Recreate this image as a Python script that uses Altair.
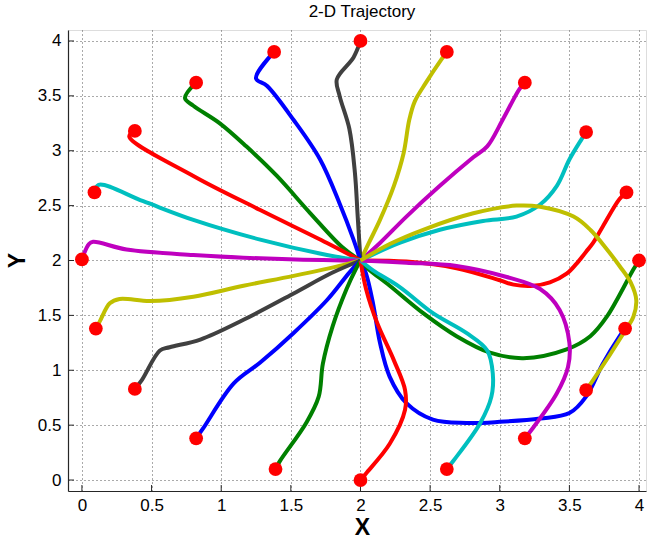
import altair as alt
import pandas as pd

# MATLAB-style colour cycle
COLORS = ["#0000ff", "#008000", "#ff0000", "#00bfbf", "#bf00bf", "#bfbf00", "#404040"]

t01_x = [3.90, 3.86, 3.74, 3.62, 3.50, 3.29, 3.00, 2.76, 2.52, 2.33, 2.21, 2.14, 2.09, 2.04, 2.00]
t01_y = [1.38, 1.31, 1.06, 0.76, 0.61, 0.56, 0.53, 0.52, 0.55, 0.70, 0.94, 1.25, 1.61, 1.88, 2.00]
t02_x = [4.00, 3.96, 3.77, 3.65, 3.48, 3.17, 2.93, 2.69, 2.45, 2.21, 2.05, 2.00]
t02_y = [2.00, 1.92, 1.49, 1.31, 1.19, 1.11, 1.16, 1.31, 1.52, 1.77, 1.93, 2.00]
t03_x = [3.91, 3.86, 3.74, 3.67, 3.62, 3.55, 3.48, 3.36, 3.24, 3.10, 3.00, 2.69, 2.33, 2.00]
t03_y = [2.62, 2.56, 2.31, 2.16, 2.08, 1.97, 1.88, 1.80, 1.77, 1.78, 1.82, 1.93, 1.99, 2.00]
t04_x = [3.62, 3.59, 3.50, 3.41, 3.29, 3.12, 2.88, 2.57, 2.28, 2.00]
t04_y = [3.17, 3.11, 2.92, 2.68, 2.51, 2.40, 2.36, 2.28, 2.16, 2.00]
t05_x = [3.18, 3.14, 3.02, 2.91, 2.81, 2.57, 2.33, 2.14, 2.00]
t05_y = [3.62, 3.56, 3.28, 3.04, 2.94, 2.68, 2.40, 2.16, 2.00]
t06_x = [2.62, 2.58, 2.47, 2.39, 2.35, 2.31, 2.24, 2.14, 2.06, 2.00]
t06_y = [3.90, 3.83, 3.62, 3.45, 3.28, 2.98, 2.68, 2.37, 2.16, 2.00]
t07_x = [2.00, 1.95, 1.83, 1.85, 1.92, 1.96, 1.98, 2.00]
t07_y = [4.00, 3.85, 3.65, 3.50, 3.20, 2.80, 2.40, 2.00]
t08_x = [1.38, 1.25, 1.33, 1.52, 1.71, 1.85, 1.95, 2.00]
t08_y = [3.90, 3.66, 3.59, 3.28, 2.92, 2.52, 2.19, 2.00]
t09_x = [0.82, 0.74, 0.80, 0.99, 1.18, 1.40, 1.64, 1.87, 2.00]
t09_y = [3.62, 3.48, 3.41, 3.25, 3.04, 2.77, 2.43, 2.12, 2.00]
t10_x = [0.38, 0.34, 0.80, 1.28, 1.76, 2.00]
t10_y = [3.18, 3.13, 2.77, 2.46, 2.16, 2.00]
t11_x = [0.09, 0.12, 0.44, 0.80, 1.28, 1.76, 2.00]
t11_y = [2.62, 2.69, 2.54, 2.37, 2.19, 2.05, 2.00]
t12_x = [0.00, 0.05, 0.08, 0.32, 0.80, 1.28, 1.87, 2.00]
t12_y = [2.01, 2.15, 2.17, 2.10, 2.05, 2.02, 2.00, 2.00]
t13_x = [0.10, 0.13, 0.20, 0.27, 0.49, 0.80, 1.16, 1.52, 1.88, 2.00]
t13_y = [1.38, 1.45, 1.61, 1.65, 1.63, 1.67, 1.77, 1.86, 1.96, 2.00]
t14_x = [0.38, 0.43, 0.56, 0.63, 0.85, 1.16, 1.52, 1.80, 2.00]
t14_y = [0.83, 0.91, 1.18, 1.21, 1.28, 1.46, 1.70, 1.89, 2.00]
t15_x = [0.82, 0.87, 1.09, 1.28, 1.52, 1.76, 1.92, 2.00]
t15_y = [0.38, 0.47, 0.88, 1.07, 1.34, 1.64, 1.89, 2.00]
t16_x = [1.39, 1.42, 1.61, 1.70, 1.73, 1.80, 1.90, 1.97, 2.00]
t16_y = [0.10, 0.17, 0.52, 0.76, 1.06, 1.40, 1.74, 1.93, 2.00]
t17_x = [2.00, 2.04, 2.21, 2.32, 2.32, 2.24, 2.12, 2.04, 2.00]
t17_y = [0.00, 0.06, 0.33, 0.64, 0.82, 1.09, 1.43, 1.74, 2.00]
t18_x = [2.62, 2.67, 2.86, 2.94, 2.95, 2.91, 2.76, 2.52, 2.28, 2.09, 2.00]
t18_y = [0.10, 0.18, 0.52, 0.76, 0.97, 1.18, 1.34, 1.52, 1.76, 1.91, 2.00]
t19_x = [3.18, 3.23, 3.41, 3.49, 3.50, 3.43, 3.29, 3.05, 2.69, 2.33, 2.00]
t19_y = [0.38, 0.46, 0.79, 1.03, 1.25, 1.55, 1.74, 1.85, 1.95, 1.98, 2.00]
t20_x = [3.62, 3.67, 3.89, 3.96, 3.98, 3.94, 3.86, 3.77, 3.65, 3.53, 3.29, 3.12, 2.81, 2.45, 2.21, 2.00]
t20_y = [0.82, 0.91, 1.34, 1.49, 1.64, 1.80, 1.95, 2.10, 2.28, 2.40, 2.49, 2.50, 2.43, 2.28, 2.15, 2.00]

TRAJS = [
    (t01_x, t01_y), (t02_x, t02_y), (t03_x, t03_y), (t04_x, t04_y), (t05_x, t05_y),
    (t06_x, t06_y), (t07_x, t07_y), (t08_x, t08_y), (t09_x, t09_y), (t10_x, t10_y),
    (t11_x, t11_y), (t12_x, t12_y), (t13_x, t13_y), (t14_x, t14_y), (t15_x, t15_y),
    (t16_x, t16_y), (t17_x, t17_y), (t18_x, t18_y), (t19_x, t19_y), (t20_x, t20_y),
]
TICKS = [0, 0.5, 1, 1.5, 2, 2.5, 3, 3.5, 4]

rows = []
ids = []
for i, (xs, ys) in enumerate(TRAJS):
    tid = f"t{i + 1:02d}"
    ids.append(tid)
    for j, (x, y) in enumerate(zip(xs, ys)):
        rows.append({"traj": tid, "idx": j, "x": x, "y": y})
df = pd.DataFrame(rows)
starts = df[df["idx"] == 0]
ticks_df = pd.DataFrame({"t": TICKS})
color_range = [COLORS[i % len(COLORS)] for i in range(len(ids))]

FONT = "Liberation Sans"
W, H = 578, 461
xscale = alt.Scale(domain=[-0.1, 4.05], nice=False, zero=False)
yscale = alt.Scale(domain=[-0.1, 4.1], nice=False, zero=False)

common_axis = dict(
    values=TICKS, format="~g", grid=True, ticks=False,
    gridColor="#555555", gridDash=[1, 3], gridWidth=1,
    domainColor="#262626", domainWidth=1.2,
    labelFont=FONT, labelFontSize=17, labelColor="#000000",
    titleFont=FONT, titleFontSize=23, titleFontWeight="bold", titleColor="#000000",
)
xaxis = alt.Axis(title="X", labelPadding=6, titleX=294, titleY=36,
                 titleAlign="center", titleBaseline="middle", **common_axis)
yaxis = alt.Axis(title="Y", labelPadding=7, titleX=-51, titleY=230, titleAngle=-90,
                 titleAlign="center", titleBaseline="middle", **common_axis)

lines = alt.Chart(df).mark_line(strokeWidth=4, interpolate="catmull-rom").encode(
    x=alt.X("x:Q", scale=xscale, axis=xaxis),
    y=alt.Y("y:Q", scale=yscale, axis=yaxis),
    color=alt.Color("traj:N", scale=alt.Scale(domain=ids, range=color_range), legend=None),
    detail="traj:N",
    order="idx:Q",
)
dots = alt.Chart(starts).mark_point(filled=True, shape="circle", size=190,
                                     color="#ff0000", opacity=1).encode(
    x=alt.X("x:Q", scale=xscale),
    y=alt.Y("y:Q", scale=yscale),
)
# inward tick marks (MATLAB style)
xticks = alt.Chart(ticks_df).mark_rule(color="#262626", strokeWidth=1).encode(
    x=alt.X("t:Q", scale=xscale),
    y=alt.value(H),
    y2=alt.value(H - 6),
)
yticks = alt.Chart(ticks_df).mark_rule(color="#262626", strokeWidth=1).encode(
    y=alt.Y("t:Q", scale=yscale),
    x=alt.value(0),
    x2=alt.value(6),
)

chart = alt.layer(lines, xticks, yticks, dots).properties(
    width=W, height=H,
    title=alt.TitleParams("2-D Trajectory", font=FONT, fontSize=17, fontWeight="normal",
                          color="#000000", offset=9, dx=5),
    autosize=alt.AutoSizeParams(type="none"),
    padding={"left": 68, "top": 30, "right": 4, "bottom": 50},
).configure_view(stroke=None).configure(background="#ffffff")

chart.save("out.html", embed_options={"renderer": "svg", "actions": False})
